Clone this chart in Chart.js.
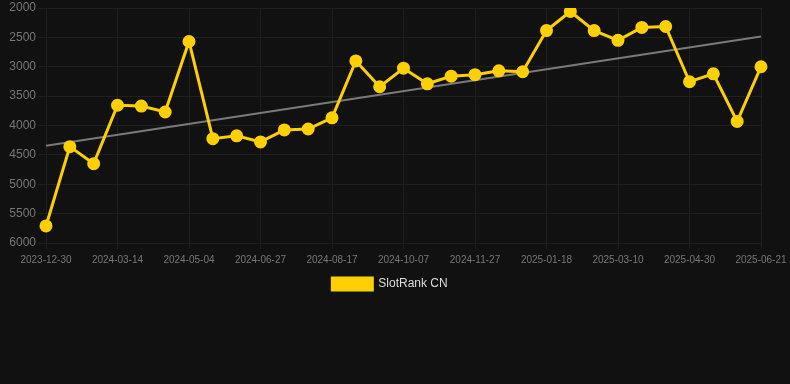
<!DOCTYPE html>
<html>
<head>
<meta charset="utf-8">
<script src="https://cdn.jsdelivr.net/npm/chart.js@4"></script>
<style>
html,body{margin:0;padding:0;background:#111111;}
#wrap{position:relative;width:790px;height:300px;}
</style>
</head>
<body>
<div id="wrap"><canvas id="c"></canvas></div>
<script>
const labels = [
  "2023-12-30","2024-01-24","2024-02-18","2024-03-14","2024-03-31","2024-04-17",
  "2024-05-04","2024-05-22","2024-06-09","2024-06-27","2024-07-14","2024-07-31",
  "2024-08-17","2024-09-03","2024-09-20","2024-10-07","2024-10-24","2024-11-10",
  "2024-11-27","2024-12-14","2024-12-31","2025-01-18","2025-02-04","2025-02-21",
  "2025-03-10","2025-03-27","2025-04-13","2025-04-30","2025-05-17","2025-06-04",
  "2025-06-21"
];
const rankValues = [
  5710, 4360, 4650, 3655, 3670, 3770,
  2570, 4225, 4175, 4280, 4075, 4060,
  3870, 2900, 3340, 3025, 3290, 3160,
  3135, 3070, 3085, 2385, 2060, 2385,
  2550, 2330, 2315, 3255, 3120, 3930,
  3000
];
const trendStart = 4345;
const trendEnd = 2485;
const yTicks = [2000, 2500, 3000, 3500, 4000, 4500, 5000, 5500, 6000];

const trendData = labels.map((_, i) => i === 0 ? trendStart : (i === labels.length - 1 ? trendEnd : null));

new Chart(document.getElementById('c'), {
  type: 'line',
  data: {
    labels: labels,
    datasets: [
      {
        label: 'SlotRank CN',
        data: rankValues,
        borderColor: '#FFD000',
        backgroundColor: '#FFD000',
        borderWidth: 3,
        pointRadius: 5,
        pointHoverRadius: 5,
        pointBackgroundColor: '#FFD000',
        pointBorderColor: '#FFD000',
        tension: 0,
        order: 1
      },
      {
        label: 'trend',
        data: trendData,
        spanGaps: true,
        borderColor: '#7a7a7a',
        borderWidth: 2,
        pointRadius: 0,
        pointHoverRadius: 0,
        fill: false,
        order: 2
      }
    ]
  },
  options: {
    responsive: true,
    maintainAspectRatio: false,
    animation: false,
    layout: { padding: { top: 0, left: 0, right: 10, bottom: 0 } },
    plugins: {
      legend: {
        position: 'bottom',
        labels: {
          color: '#dddddd',
          font: { family: 'Liberation Sans, Arial, sans-serif', size: 12 },
          boxWidth: 40,
          boxHeight: 12,
          padding: 10,
          filter: (item) => item.datasetIndex === 0
        }
      },
      tooltip: { enabled: false }
    },
    scales: {
      x: {
        offset: false,
        afterFit: (scale) => { scale.paddingRight = 29; scale.height = 25; },
        grid: { color: '#1f1f1f', drawTicks: true, tickLength: 6 },
        border: { color: '#1f1f1f' },
        ticks: {
          autoSkip: false,
          maxRotation: 0,
          minRotation: 0,
          padding: 5,
          color: '#777777',
          font: { family: 'Liberation Sans, Arial, sans-serif', size: 10 },
          callback: function(val, idx) { return idx % 3 === 0 ? labels[idx] : null; }
        }
      },
      y: {
        reverse: true,
        min: 2000,
        max: 6000,
        afterFit: (scale) => { scale.width = 46; scale.paddingTop = 4; },
        afterBuildTicks: (scale) => { scale.ticks = yTicks.map(v => ({ value: v })); },
        grid: { color: '#1f1f1f' },
        border: { color: '#1f1f1f' },
        ticks: {
          color: '#777777',
          font: { family: 'Liberation Sans, Arial, sans-serif', size: 12 },
          padding: 2,
          callback: (v) => String(v)
        }
      }
    }
  }
});
</script>
</body>
</html>
